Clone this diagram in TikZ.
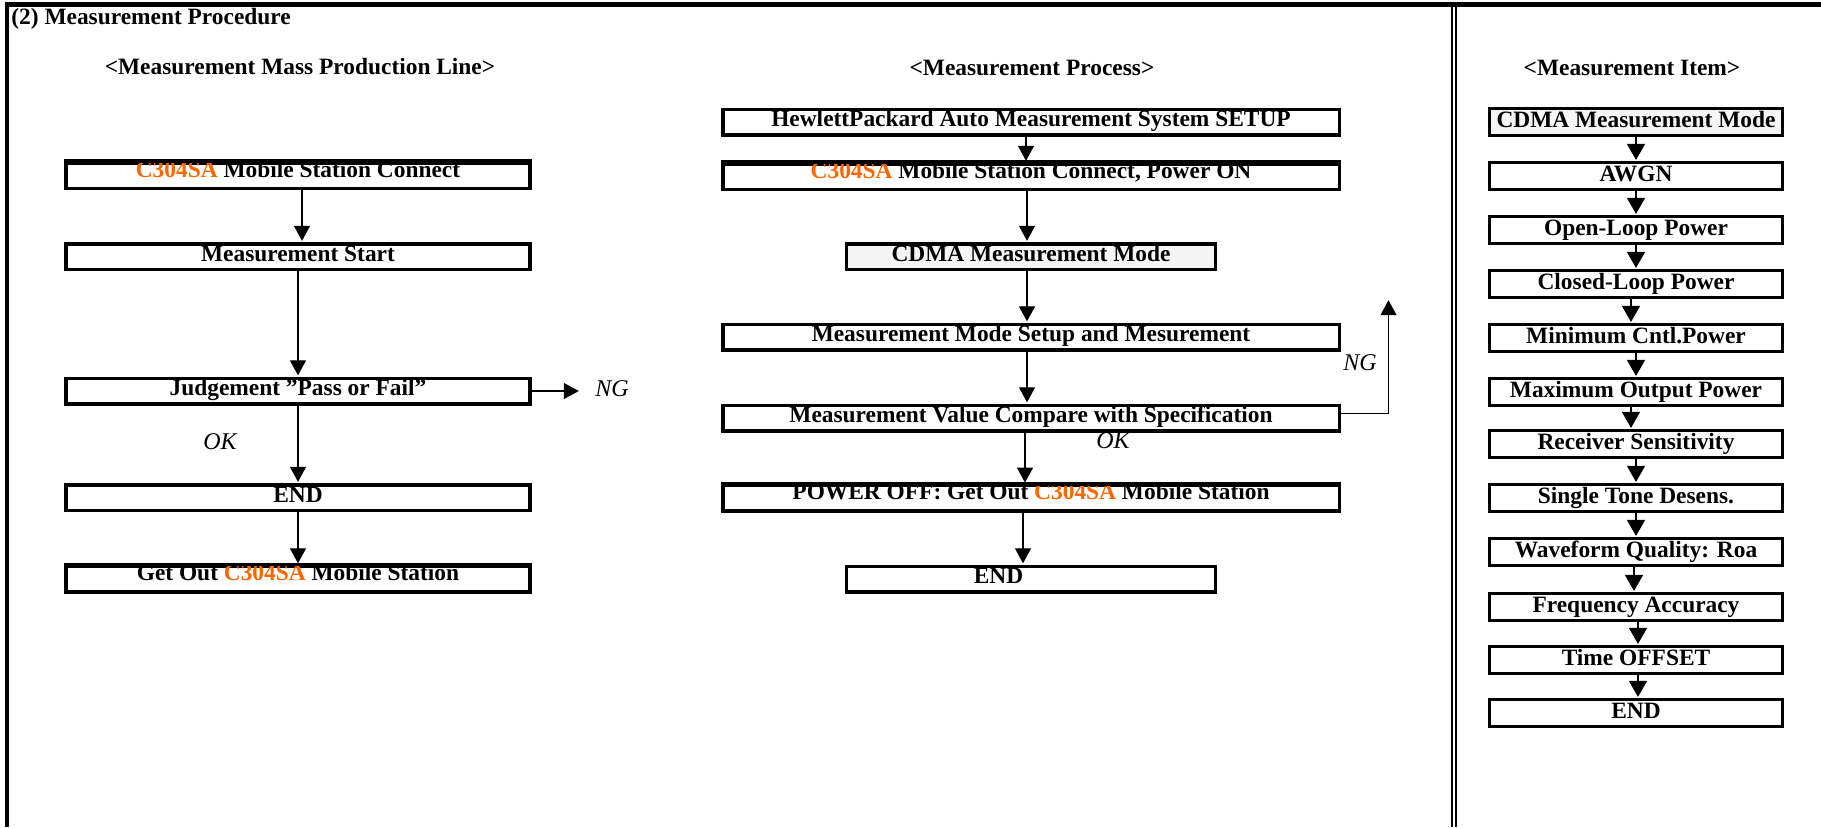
\documentclass[tikz,border=0pt]{standalone}
\usepackage{fontspec}
\setmainfont{Liberation Serif}
\usetikzlibrary{arrows.meta}
\definecolor{orng}{RGB}{255,102,0}
\definecolor{ltgray}{RGB}{245,245,245}
\begin{document}
\begin{tikzpicture}[x=0.5pt,y=-0.5pt,
  every node/.style={font=\fontsize{11.7pt}{14pt}\selectfont\bfseries},
  bxN/.style={draw, line width=1.75pt, inner sep=0pt, minimum height=12.75pt,
              text height=8.625pt, text depth=4.125pt},
  bxC/.style={bxN, text height=7.125pt, text depth=5.625pt},
  wA/.style={minimum width=232.2pt},
  wB/.style={minimum width=308.25pt},
  wN/.style={minimum width=184.65pt},
  itm/.style={draw, line width=1.65pt, inner sep=0pt, minimum height=13.25pt,
              minimum width=146.25pt, text height=9.375pt, text depth=3.875pt},
  lab/.style={font=\fontsize{12pt}{14pt}\selectfont\mdseries\itshape, inner sep=0pt, anchor=base},
  hdr/.style={inner sep=0pt, anchor=base},
  arr/.style={line width=0.6pt, -{Triangle[length=7.5pt,width=8pt]}, shorten >=0.6pt},
  arrI/.style={line width=0.6pt, -{Triangle[length=8pt,width=9pt]}, shorten >=0.6pt},
  edgetop/.style={line width=1.75pt}
]
\useasboundingbox (0,0) rectangle (1821,827);

% frame
\draw[line width=2.5pt] (5,4.5) -- (1821,4.5);
\draw[line width=2pt] (7,2) -- (7,827);
\draw[line width=1.3pt] (1452,4.5) -- (1452,827);
\draw[line width=1.3pt] (1456,4.5) -- (1456,827);

% titles
\node[hdr, anchor=base west] (title) at (11,24) {(2) Measurement Procedure};
\node[hdr] (h1) at (300,74) {<Measurement Mass Production Line>};
\node[hdr] (h2) at (1032,75) {<Measurement Process>};
\node[hdr] (h3) at (1632,75) {<Measurement Item>};

% column 1
\node[bxC, wA] (b1) at (298,175.5) {{\color{orng}C304SA} Mobile Station Connect};
\node[bxN, wA] (b2) at (298,256.5) {Measurement Start};
\node[bxN, wA] (b3) at (298,391) {Judgement ”Pass or Fail”};
\node[bxN, wA] (b4) at (298,497.5) {END};
\node[bxC, wA] (b5) at (298,579) {Get Out {\color{orng}C304SA} Mobile Station};
\draw[edgetop] (b1.north west) -- (b1.north east);
\draw[edgetop] (b5.north west) -- (b5.north east);

\draw[arr] ([xshift=2pt]b1.south) -- ([xshift=2pt]b2.north);
\draw[arr] (b2.south) -- (b3.north);
\draw[arr] (b3.south) -- (b4.north);
\draw[arr] (b4.south) -- (b5.north);
\coordinate (ng1e) at (580,391);
\draw[arr] (b3.east) -- (ng1e);
\node[lab] (ng1) at (612,396.7) {NG};
\node[lab] (ok1) at (220,449) {OK};

% column 2
\node[bxN, wB] (p1) at (1031,122) {HewlettPackard Auto Measurement System SETUP};
\node[bxC, wB] (p2) at (1031,176.5) {{\color{orng}C304SA} Mobile Station Connect, Power ON};
\node[bxN, wN, fill=ltgray] (p3) at (1031,256.5) {CDMA Measurement Mode};
\node[bxN, wB] (p4) at (1031,337) {Measurement Mode Setup and Mesurement};
\node[bxN, wB] (p5) at (1031,418) {Measurement Value Compare with Specification};
\node[bxC, wB] (p6) at (1031,498.3) {POWER OFF: Get Out {\color{orng}C304SA} Mobile Station};
\node[bxN, wN] (p7) at (1031,579) {END\kern32.5pt};
\draw[edgetop] (p2.north west) -- (p2.north east);
\draw[edgetop] (p6.north west) -- (p6.north east);

\draw[arr] ([xshift=-2.5pt]p1.south) -- ([xshift=-2.5pt]p2.north);
\draw[arr] ([xshift=-2pt]p2.south) -- ([xshift=-2pt]p3.north);
\draw[arr] ([xshift=-2pt]p3.south) -- ([xshift=-2pt]p4.north);
\draw[arr] ([xshift=-2pt]p4.south) -- ([xshift=-2pt]p5.north);
\draw[arr] ([xshift=-3pt]p5.south) -- ([xshift=-3pt]p6.north);
\draw[arr] ([xshift=-4pt]p6.south) -- ([xshift=-4pt]p7.north);
\coordinate (ng2c) at (1388.5,413.5);
\coordinate (ng2e) at (1388.5,299);
\draw[arr] (p5.east |- ng2c) -- (ng2c) -- (ng2e);
\node[lab] (ng2) at (1360,370) {NG};
\node[lab] (ok2) at (1113,448) {OK};

% column 3
\node[itm, fill=ltgray] (i1) at (1636,122) {CDMA Measurement Mode};
\node[itm] (i2) at (1636,176) {AWGN};
\node[itm] (i3) at (1636,230) {Open-Loop Power};
\node[itm] (i4) at (1636,284) {Closed-Loop Power};
\node[itm] (i5) at (1636,338) {Minimum Cntl.Power};
\node[itm] (i6) at (1636,392) {Maximum Output Power};
\node[itm] (i7) at (1636,444) {Receiver Sensitivity};
\node[itm] (i8) at (1636,498) {Single Tone Desens.};
\node[itm] (i9) at (1636,552) {Waveform Quality: Roa};
\node[itm] (i10) at (1636,607) {Frequency Accuracy};
\node[itm] (i11) at (1636,660) {Time OFFSET};
\node[itm] (i12) at (1636,713) {END};

\draw[arrI] (i1.south) -- (i2.north);
\draw[arrI] (i2.south) -- (i3.north);
\draw[arrI] (i3.south) -- (i4.north);
\draw[arrI] ([xshift=-2.5pt]i4.south) -- ([xshift=-2.5pt]i5.north);
\draw[arrI] (i5.south) -- (i6.north);
\draw[arrI] ([xshift=-2.5pt]i6.south) -- ([xshift=-2.5pt]i7.north);
\draw[arrI] (i7.south) -- (i8.north);
\draw[arrI] (i8.south) -- (i9.north);
\draw[arrI] ([xshift=-1pt]i9.south) -- ([xshift=-1pt]i10.north);
\draw[arrI] ([xshift=1pt]i10.south) -- ([xshift=1pt]i11.north);
\draw[arrI] ([xshift=1pt]i11.south) -- ([xshift=1pt]i12.north);
\end{tikzpicture}
\end{document}
